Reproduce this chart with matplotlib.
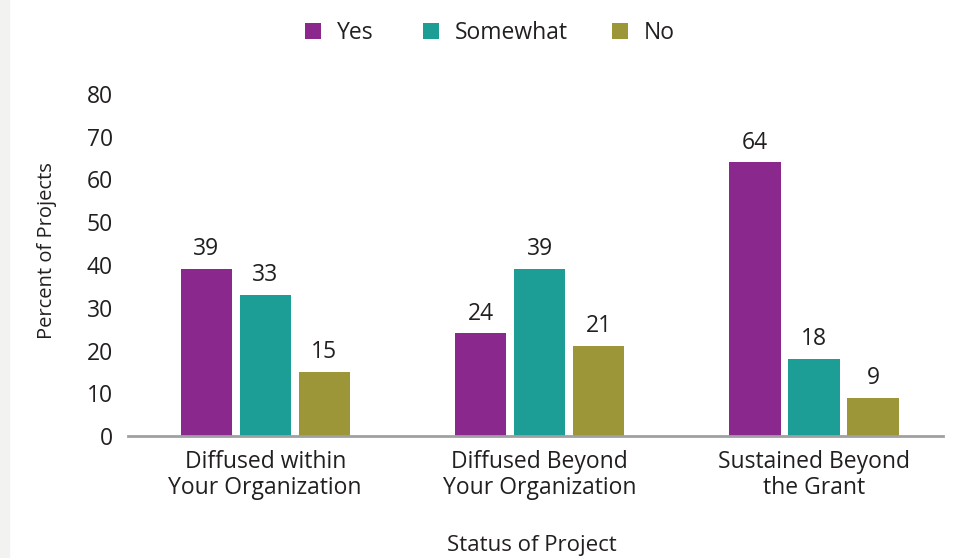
import numpy as np
import matplotlib.pyplot as plt
from matplotlib.patches import Rectangle

plt.rcParams['font.family'] = ['Open Sans', 'DejaVu Sans']

categories = ['Diffused within\nYour Organization',
              'Diffused Beyond\nYour Organization',
              'Sustained Beyond\nthe Grant']
series = ['Yes', 'Somewhat', 'No']
yes = [39, 24, 64]
somewhat = [33, 39, 18]
no = [15, 21, 9]
yticks = [0, 10, 20, 30, 40, 50, 60, 70, 80]

colors = ['#8b288d', '#1c9e96', '#9c9638']
txt = '#231f20'
fs = 16.5

fig = plt.figure(figsize=(9.58, 5.58), dpi=100)
fig.patches.append(Rectangle((0, 0), 9 / 958, 1, transform=fig.transFigure,
                             color='#f2f2f0', zorder=0))
ax = fig.add_axes([0.1336, 1 - 436 / 558, 0.8507, 342 / 558])

x = np.arange(len(categories))
w = 0.186
step = 0.215
handles = []
for i, (vals, name) in enumerate(zip([yes, somewhat, no], series)):
    pos = x + (i - 1) * step
    bars = ax.bar(pos, vals, w, color=colors[i], label=name, zorder=2)
    handles.append(bars)
    for b, v in zip(bars, vals):
        ax.annotate(str(v), (b.get_x() + b.get_width() / 2, v),
                    xytext=(0, 10), textcoords='offset points',
                    ha='center', va='baseline', fontsize=fs, color=txt)

ax.set_xlim(-0.5, 2.47)
ax.set_ylim(0, 80)
ax.set_yticks(yticks)
ax.set_xticks(x)
ax.set_xticklabels(categories, fontsize=fs, color=txt, linespacing=1.12)
ax.tick_params(axis='y', length=0, pad=11, labelsize=fs, labelcolor=txt)
ax.tick_params(axis='x', length=0, pad=10)
for s in ['top', 'right', 'left']:
    ax.spines[s].set_visible(False)
ax.spines['bottom'].set_color('#a0a0a2')
ax.spines['bottom'].set_linewidth(2)

fig.text(47 / 958, 1 - 251 / 558, 'Percent of Projects', rotation=90,
         ha='center', va='center', fontsize=14.5, color=txt)
fig.text(532 / 958, 1 - 545 / 558, 'Status of Project',
         ha='center', va='center', fontsize=16, color=txt)

# one legend per entry so the uneven spacing of the original is kept
for h, name, xl in zip(handles, series, [305, 423, 612]):
    fig.legend([h], [name], loc='center left',
               bbox_to_anchor=(xl / 958, 1 - 33 / 558), frameon=False,
               fontsize=fs, handlelength=0.68, handleheight=0.68,
               handletextpad=0.7, borderpad=0, borderaxespad=0,
               labelcolor=txt)

fig.savefig('out.png', dpi=100)
